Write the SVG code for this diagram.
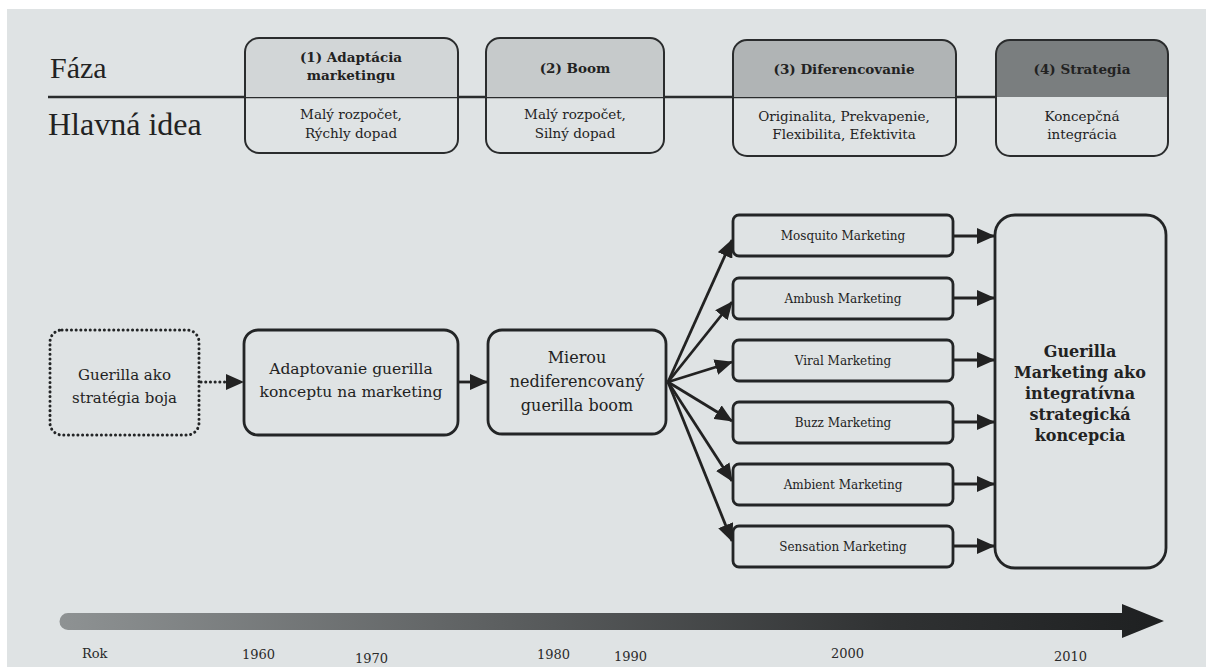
<svg xmlns="http://www.w3.org/2000/svg" width="1206" height="667" viewBox="0 0 1206 667">
<defs>
<linearGradient id="tl" x1="0" y1="0" x2="1" y2="0">
<stop offset="0" stop-color="#8e9293"/>
<stop offset="0.4" stop-color="#5c5f60"/>
<stop offset="0.75" stop-color="#303233"/>
<stop offset="1" stop-color="#1e2021"/>
</linearGradient>
<marker id="ah" viewBox="0 0 18 16" refX="17" refY="8" markerWidth="18" markerHeight="16" markerUnits="userSpaceOnUse" orient="auto">
<path d="M0,0 L18,8 L0,16 Z" fill="#222"/>
</marker>
<style>
.bg{fill:#dfe3e4}
.box{fill:none;stroke:#232526;stroke-width:2.8}
.pbox{fill:none;stroke:#2a2c2d;stroke-width:2}
.dot{fill:none;stroke:#232526;stroke-width:3;stroke-dasharray:0.1 4.6;stroke-linecap:round}
.t{font-family:"DejaVu Serif","Liberation Serif",serif;fill:#222;text-anchor:middle}
.h{font-family:"Liberation Serif","DejaVu Serif",serif;fill:#222}
.b{font-weight:bold}
.s13{font-size:13.5px}
.s12{font-size:12px}
.s15{font-size:15px}
.s155{font-size:15.5px}
.s16{font-size:16px}
.bl{font-size:16px;font-weight:bold}
.y{font-family:"DejaVu Serif","Liberation Serif",serif;fill:#2a2a2a;font-size:13px}
.c{fill:none;stroke:#222;stroke-width:2.8}
</style>
</defs>
<rect width="1206" height="667" fill="#ffffff"/>
<rect x="7" y="9" width="1199" height="658" class="bg"/>

<g id="labels">
<text class="h" x="50" y="78" font-size="30">Fáza</text>
<line x1="48" y1="97" x2="996" y2="97" stroke="#2a2c2d" stroke-width="2.5"/>
<text class="h" x="48" y="135" font-size="32">Hlavná idea</text>
</g>

<g id="phase1">
<path d="M245,97 V52 Q245,38 259,38 H444 Q458,38 458,52 V97 Z" fill="#d2d6d7"/>
<rect x="245" y="38" width="213" height="115" rx="14" class="pbox"/>
<text class="t b s13" x="351" y="62">(1) Adaptácia</text>
<text class="t b s13" x="351" y="80">marketingu</text>
<text class="t s13" x="351" y="119">Malý rozpočet,</text>
<text class="t s13" x="351" y="138">Rýchly dopad</text>
</g>

<g id="phase2">
<path d="M486,97 V52 Q486,38 500,38 H650 Q664,38 664,52 V97 Z" fill="#c6cacb"/>
<rect x="486" y="38" width="178" height="115" rx="14" class="pbox"/>
<text class="t b s13" x="575" y="73">(2) Boom</text>
<text class="t s13" x="575" y="119">Malý rozpočet,</text>
<text class="t s13" x="575" y="138">Silný dopad</text>
</g>

<g id="phase3">
<path d="M733,97 V54 Q733,40 747,40 H942 Q956,40 956,54 V97 Z" fill="#b0b4b5"/>
<rect x="733" y="40" width="223" height="116" rx="14" class="pbox"/>
<text class="t b s13" x="844" y="74">(3) Diferencovanie</text>
<text class="t s13" x="844" y="121">Originalita, Prekvapenie,</text>
<text class="t s13" x="844" y="139">Flexibilita, Efektivita</text>
</g>

<g id="phase4">
<path d="M996,97 V54 Q996,40 1010,40 H1154 Q1168,40 1168,54 V97 Z" fill="#7a7e7f"/>
<rect x="996" y="40" width="172" height="116" rx="14" class="pbox"/>
<text class="t b s13" x="1082" y="74">(4) Strategia</text>
<text class="t s13" x="1082" y="121">Koncepčná</text>
<text class="t s13" x="1082" y="139">integrácia</text>
</g>

<g id="n-guerilla">
<rect x="50" y="330" width="149" height="105" rx="12" class="dot"/>
<text class="t s15" x="124.5" y="380">Guerilla ako</text>
<text class="t s15" x="124.5" y="403">stratégia boja</text>
</g>

<g id="n-adapt">
<rect x="244" y="330" width="214" height="105" rx="14" class="box"/>
<text class="t s155" x="351" y="374">Adaptovanie guerilla</text>
<text class="t s155" x="351" y="397">konceptu na marketing</text>
</g>

<g id="n-mierou">
<rect x="488" y="330" width="178" height="104" rx="14" class="box"/>
<text class="t s16" x="577" y="363">Mierou</text>
<text class="t s16" x="577" y="387">nediferencovaný</text>
<text class="t s16" x="577" y="411">guerilla boom</text>
</g>

<g id="n-mosquito">
<rect x="733" y="215" width="220" height="41" rx="6" class="box"/>
<text class="t s12" x="843" y="240">Mosquito Marketing</text>
</g>
<g id="n-ambush">
<rect x="733" y="278" width="220" height="41" rx="6" class="box"/>
<text class="t s12" x="843" y="303">Ambush Marketing</text>
</g>
<g id="n-viral">
<rect x="733" y="340" width="220" height="41" rx="6" class="box"/>
<text class="t s12" x="843" y="365">Viral Marketing</text>
</g>
<g id="n-buzz">
<rect x="733" y="402" width="220" height="41" rx="6" class="box"/>
<text class="t s12" x="843" y="427">Buzz Marketing</text>
</g>
<g id="n-ambient">
<rect x="733" y="464" width="220" height="41" rx="6" class="box"/>
<text class="t s12" x="843" y="489">Ambient Marketing</text>
</g>
<g id="n-sensation">
<rect x="733" y="526" width="220" height="41" rx="6" class="box"/>
<text class="t s12" x="843" y="551">Sensation Marketing</text>
</g>

<g id="n-strategy">
<rect x="995" y="215" width="171" height="353" rx="20" class="box"/>
<text class="t bl" x="1080" y="357">Guerilla</text>
<text class="t bl" x="1080" y="378">Marketing ako</text>
<text class="t bl" x="1080" y="399">integratívna</text>
<text class="t bl" x="1080" y="420">strategická</text>
<text class="t bl" x="1080" y="441">koncepcia</text>
</g>

<g id="connectors">
<line x1="201" y1="382" x2="243" y2="382" class="dot" marker-end="url(#ah)"/>
<line x1="459" y1="382" x2="487" y2="382" class="c" marker-end="url(#ah)"/>
<line x1="668" y1="382" x2="732" y2="240" class="c" marker-end="url(#ah)"/>
<line x1="668" y1="382" x2="732" y2="302" class="c" marker-end="url(#ah)"/>
<line x1="668" y1="382" x2="732" y2="362" class="c" marker-end="url(#ah)"/>
<line x1="668" y1="382" x2="732" y2="421" class="c" marker-end="url(#ah)"/>
<line x1="668" y1="382" x2="732" y2="481" class="c" marker-end="url(#ah)"/>
<line x1="668" y1="382" x2="732" y2="541" class="c" marker-end="url(#ah)"/>
<line x1="954" y1="236" x2="994" y2="236" class="c" marker-end="url(#ah)"/>
<line x1="954" y1="298" x2="994" y2="298" class="c" marker-end="url(#ah)"/>
<line x1="954" y1="360" x2="994" y2="360" class="c" marker-end="url(#ah)"/>
<line x1="954" y1="422" x2="994" y2="422" class="c" marker-end="url(#ah)"/>
<line x1="954" y1="484" x2="994" y2="484" class="c" marker-end="url(#ah)"/>
<line x1="954" y1="546" x2="994" y2="546" class="c" marker-end="url(#ah)"/>
</g>

<g id="timeline">
<path d="M68,613 H1122 V604 L1164,621 L1122,638 V630 H68 A8.5,8.5 0 0 1 68,613 Z" fill="url(#tl)"/>
<text class="y" x="82" y="658">Rok</text>
<text class="y" x="242" y="659">1960</text>
<text class="y" x="355" y="663">1970</text>
<text class="y" x="537" y="659">1980</text>
<text class="y" x="614" y="661">1990</text>
<text class="y" x="831" y="658">2000</text>
<text class="y" x="1054" y="661">2010</text>
</g>
</svg>
